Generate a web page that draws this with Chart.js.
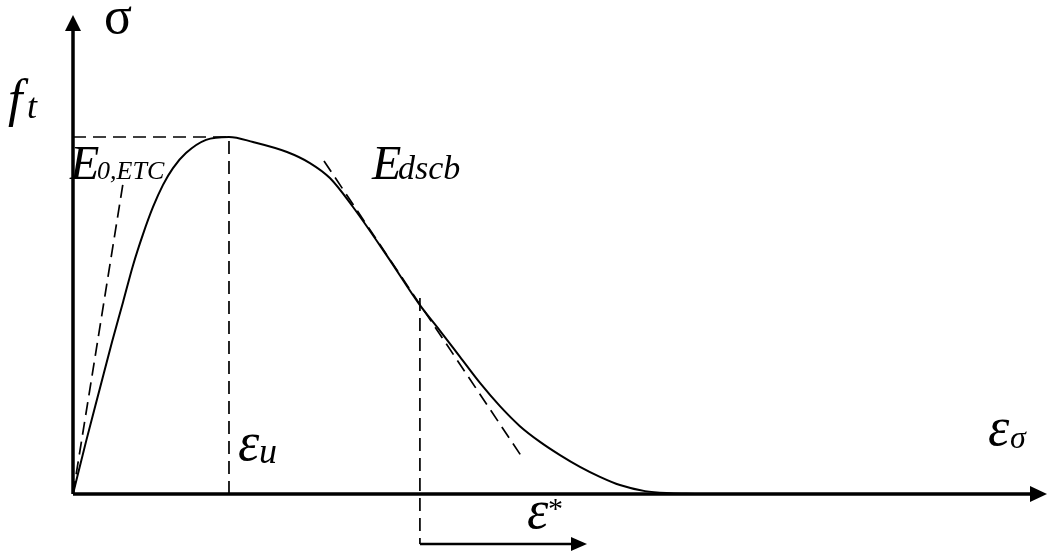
<!DOCTYPE html>
<html>
<head>
<meta charset="utf-8">
<script src="https://cdn.jsdelivr.net/npm/chart.js@4.4.1/dist/chart.umd.min.js"></script>
<style>
  body { margin: 0; background: #fff; }
  #wrap { width: 1047px; height: 555px; }
</style>
</head>
<body>
<div id="wrap"><canvas id="myCanvas" width="1047" height="555"></canvas></div>
<script>
// strain normalised by eps_u, stress normalised by f_t
const strain = [0, 0.083, 0.173, 0.250, 0.321, 0.385, 0.449, 0.513, 0.577, 0.641, 0.724, 0.853, 1.0,
    1.154, 1.372, 1.519, 1.647, 1.795, 2.013, 2.224, 2.353, 2.481, 2.609, 2.737, 2.865, 2.994,
    3.122, 3.250, 3.378, 3.506, 3.667, 3.827, 3.987];
const stress = [0, 0.146, 0.297, 0.426, 0.538, 0.641, 0.728, 0.804, 0.866, 0.913, 0.955, 0.992, 1.0,
    0.986, 0.958, 0.927, 0.885, 0.804, 0.667, 0.529, 0.457, 0.384, 0.311, 0.246, 0.190, 0.146,
    0.109, 0.076, 0.048, 0.025, 0.008, 0.002, 0];

const initTangentX = [0, 0.321];
const initTangentY = [0, 0.871];
const dscbTangentX = [1.609, 2.891];
const dscbTangentY = [0.933, 0.095];

const epsU = 1.0;
const ft = 1.0;
const epsStar = 2.224;
const epsStarTop = 0.549;
const epsStarArrowY = -0.140;
const epsStarArrowEnd = 3.295;

const xAxisEnd = 6.244;
const yAxisEnd = 1.342;

function pts(xs, ys) {
    return xs.map((x, i) => ({ x: x, y: ys[i] }));
}

function lineSet(data, width, dashed) {
    return {
        data: data,
        showLine: true,
        borderColor: '#000',
        borderWidth: width,
        borderDash: dashed ? [13, 7] : [],
        pointRadius: 0,
        clip: false,
        tension: 0
    };
}

const curve = {
    data: pts(strain, stress),
    showLine: true,
    borderColor: '#000',
    borderWidth: 2,
    pointRadius: 0,
    clip: false,
    cubicInterpolationMode: 'monotone'
};

const datasets = [
    curve,
    lineSet(pts(initTangentX, initTangentY), 1.7, true),
    lineSet(pts(dscbTangentX, dscbTangentY), 1.7, true),
    lineSet([{ x: 0, y: ft }, { x: epsU, y: ft }], 1.7, true),
    lineSet([{ x: epsU, y: 0 }, { x: epsU, y: ft }], 1.7, true),
    lineSet([{ x: epsStar, y: epsStarTop }, { x: epsStar, y: epsStarArrowY }], 1.7, true),
    lineSet([{ x: 0, y: 0 }, { x: xAxisEnd - 0.08, y: 0 }], 3.5, false),
    lineSet([{ x: 0, y: 0 }, { x: 0, y: yAxisEnd - 0.03 }], 3.5, false),
    lineSet([{ x: epsStar, y: epsStarArrowY }, { x: epsStarArrowEnd - 0.06, y: epsStarArrowY }], 2.5, false)
];

// text labels: [value x, value y, parts] ; parts = [text, font, dx, dy]
const serif = "'Liberation Serif', 'DejaVu Serif', serif";
const labels = [
    [0.199, 1.291, [['σ', '52px ' + serif, 0, 0]]],
    [-0.417, 1.059, [['f', 'italic 52px ' + serif, 0, 0], ['t', 'italic 36px ' + serif, 19, 2]]],
    [-0.019, 0.881, [['E', 'italic 48px ' + serif, 0, 0], ['0,ETC', 'italic 26px ' + serif, 27, 0]]],
    [1.917, 0.881, [['E', 'italic 48px ' + serif, 0, 0], ['dscb', 'italic 34px ' + serif, 26, 0]]],
    [1.058, 0.095, [['ε', 'italic 54px ' + serif, 0, 0], ['u', 'italic 36px ' + serif, 21, 3]]],
    [5.865, 0.137, [['ε', 'italic 54px ' + serif, 0, 0], ['σ', 'italic 32px ' + serif, 22, 3]]],
    [2.910, -0.095, [['ε', 'italic 54px ' + serif, 0, 0], ['*', '30px ' + serif, 21, -10]]]
];

const annotate = {
    id: 'annotate',
    afterDatasetsDraw(chart) {
        const ctx = chart.ctx;
        const xs = chart.scales.x;
        const ys = chart.scales.y;
        ctx.save();
        ctx.fillStyle = '#000';

        function head(tipX, tipY, dir, len, half) {
            ctx.beginPath();
            if (dir === 'right') {
                ctx.moveTo(tipX, tipY);
                ctx.lineTo(tipX - len, tipY - half);
                ctx.lineTo(tipX - len, tipY + half);
            } else {
                ctx.moveTo(tipX, tipY);
                ctx.lineTo(tipX - half, tipY + len);
                ctx.lineTo(tipX + half, tipY + len);
            }
            ctx.closePath();
            ctx.fill();
        }

        head(xs.getPixelForValue(xAxisEnd), ys.getPixelForValue(0), 'right', 17, 8);
        head(xs.getPixelForValue(0), ys.getPixelForValue(yAxisEnd), 'up', 16, 8);
        head(xs.getPixelForValue(epsStarArrowEnd), ys.getPixelForValue(epsStarArrowY), 'right', 16, 7);

        ctx.textBaseline = 'alphabetic';
        ctx.textAlign = 'left';
        labels.forEach(function (lab) {
            const px = xs.getPixelForValue(lab[0]);
            const py = ys.getPixelForValue(lab[1]);
            lab[2].forEach(function (p) {
                ctx.font = p[1];
                ctx.fillText(p[0], px + p[2], py + p[3]);
            });
        });
        ctx.restore();
    }
};

new Chart(document.getElementById('myCanvas'), {
    type: 'scatter',
    data: { datasets: datasets },
    options: {
        responsive: false,
        animation: false,
        layout: { padding: 0 },
        plugins: { legend: { display: false }, tooltip: { enabled: false } },
        scales: {
            x: { type: 'linear', display: false, min: -0.468, max: 6.244 },
            y: { type: 'linear', display: false, min: -0.1709, max: 1.3838 }
        }
    },
    plugins: [annotate]
});
</script>
</body>
</html>
